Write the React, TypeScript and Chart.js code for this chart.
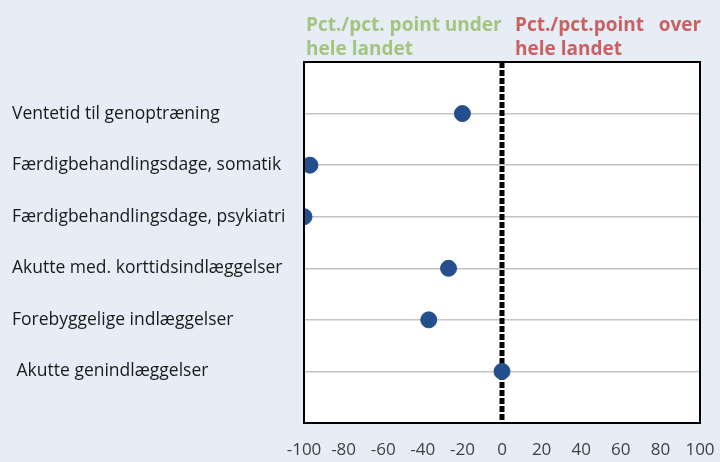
import React, { useEffect, useRef } from "react";
import { Chart, registerables } from "chart.js";

Chart.register(...registerables);

const categories = [
  "Ventetid til genoptræning",
  "Færdigbehandlingsdage, somatik",
  "Færdigbehandlingsdage, psykiatri",
  "Akutte med. korttidsindlæggelser",
  "Forebyggelige indlæggelser",
  " Akutte genindlæggelser",
];
const values = [-20, -97, -100, -27, -37, 0];
const xMin = -100;
const xMax = 100;
const xStep = 20;
const headerUnder = ["Pct./pct. point under", "hele landet"];
const headerOver = ["Pct./pct.point   over", "hele landet"];

const FONT = "'Open Sans', Lato, sans-serif";

const framePlugin = {
  id: "frame",
  beforeDraw(chart: any) {
    const { ctx, chartArea: a } = chart;
    ctx.save();
    ctx.fillStyle = "#ffffff";
    ctx.fillRect(a.left, a.top, a.right - a.left, a.bottom - a.top);
    ctx.restore();
  },
  afterDatasetsDraw(chart: any) {
    const { ctx, chartArea: a, scales } = chart;
    ctx.save();
    ctx.strokeStyle = "#000000";
    ctx.lineWidth = 2;
    ctx.strokeRect(a.left, a.top, a.right - a.left, a.bottom - a.top);
    const x0 = scales.x.getPixelForValue(0);
    ctx.font = `bold 19px ${FONT}`;
    ctx.textBaseline = "alphabetic";
    ctx.textAlign = "left";
    ctx.fillStyle = "#a3c57f";
    ctx.fillText(headerUnder[0], a.left + 2, 31);
    ctx.fillText(headerUnder[1], a.left + 2, 55);
    ctx.fillStyle = "#c76262";
    ctx.fillText(headerOver[0], x0 + 13, 31);
    ctx.fillText(headerOver[1], x0 + 13, 55);
    ctx.restore();
  },
};

export default function App() {
  const ref = useRef<HTMLCanvasElement>(null);
  useEffect(() => {
    if (!ref.current) return;
    const pts = values.map((v, i) => ({ x: v, y: i + 1 }));
    const chart = new Chart(ref.current, {
      type: "scatter",
      data: {
        datasets: [
          {
            type: "line",
            data: [
              { x: 0, y: 0 },
              { x: 0, y: categories.length + 1 },
            ],
            borderColor: "#000000",
            borderWidth: 5,
            borderDash: [6, 2],
            pointRadius: 0,
            order: 2,
          } as any,
          {
            data: pts,
            backgroundColor: "#234f8c",
            borderColor: "#234f8c",
            pointRadius: 8,
            pointHoverRadius: 8,
            order: 1,
          },
        ],
      },
      options: {
        animation: false,
        responsive: true,
        maintainAspectRatio: false,
        layout: { padding: { top: 62, left: 12, right: 20, bottom: 0 } },
        plugins: { legend: { display: false }, tooltip: { enabled: false } },
        scales: {
          x: {
            type: "linear",
            min: xMin,
            max: xMax,
            ticks: {
              stepSize: xStep,
              color: "#404040",
              font: { family: FONT, size: 17 },
              padding: 17,
              maxRotation: 0,
              autoSkip: false,
            },
            grid: { display: false, drawTicks: false },
            border: { display: false },
            afterFit: (s: any) => {
              s.height = 39;
              s.paddingLeft = 0;
              s.paddingRight = 0;
            },
          },
          y: {
            type: "linear",
            min: 0,
            max: categories.length + 1,
            reverse: true,
            afterBuildTicks: (s: any) => {
              s.ticks = categories.map((_, i) => ({ value: i + 1 }));
            },
            ticks: {
              crossAlign: "far",
              color: "#1a1a1a",
              font: { family: FONT, size: 17.5 },
              autoSkip: false,
              callback: (v: any) => categories[Number(v) - 1] ?? "",
            },
            grid: { color: "#c3c3c3", lineWidth: 1.5, drawTicks: false },
            border: { display: false },
            afterFit: (s: any) => {
              s.width = 292;
              s.paddingTop = 0;
              s.paddingBottom = 0;
            },
          },
        },
      },
      plugins: [framePlugin],
    });
    return () => chart.destroy();
  }, []);
  return (
    <div
      style={{
        position: "absolute",
        left: 0,
        top: 0,
        width: 720,
        height: 462,
        background: "#e6edf6",
      }}
    >
      <canvas ref={ref} />
    </div>
  );
}
